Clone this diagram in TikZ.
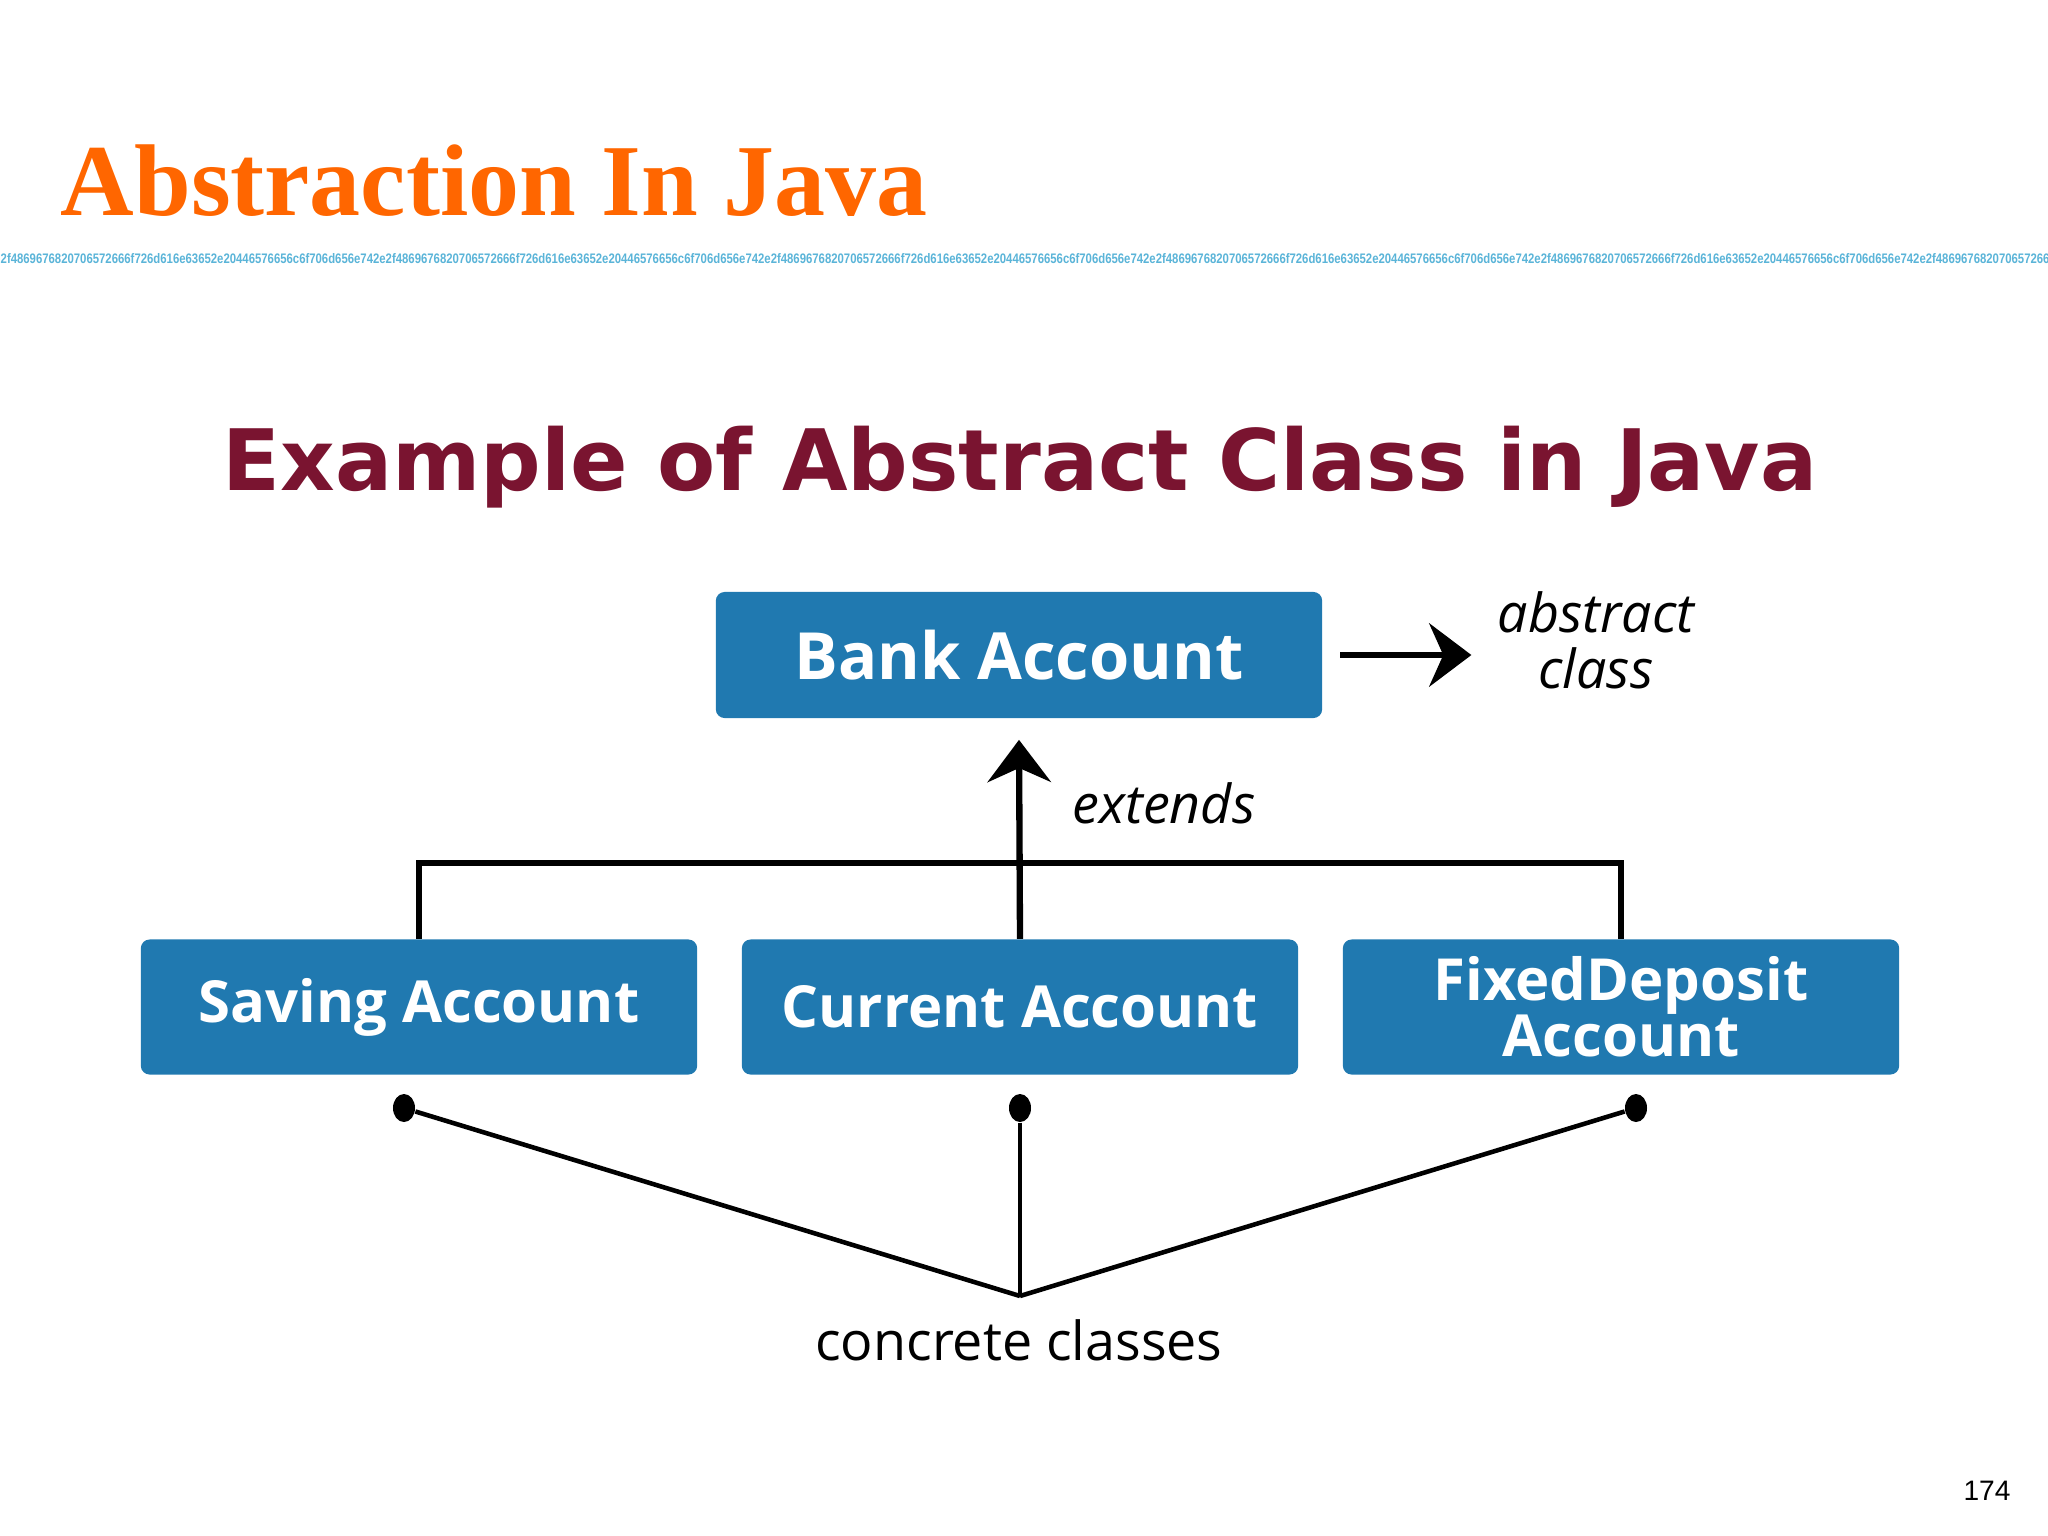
\documentclass[tikz,border=0pt]{standalone}
\usepackage{fontspec}
\usetikzlibrary{arrows.meta,shapes.geometric}

\newfontfamily\titlefont{Liberation Serif}
\newfontfamily\headfont{DejaVu Sans}
\newfontfamily\labelfont{Open Sans}
\newfontfamily\pagefont{Liberation Sans}

\definecolor{titleorange}{HTML}{FF6600}
\definecolor{headred}{HTML}{7A1430}
\definecolor{boxblue}{HTML}{2079B0}
\definecolor{hexblue}{HTML}{5AB4D8}

\newcommand{\hexchunk}{2f4869676820706572666f726d616e63652e20446576656c6f706d656e742e}

\begin{document}
\begin{tikzpicture}[x=0.01cm, y=-0.01cm]
    \tikzset{classbox/.style = {fill=boxblue, rounded corners=2.5pt, text=white,
                                font=\labelfont\bfseries\fontsize{16.5}{20}\selectfont,
                                align=center, minimum width=5.56cm, minimum height=1.35cm},
             note/.style = {font=\labelfont\itshape\fontsize{15.3}{19}\selectfont, align=center},
             link/.style = {line width=1.5pt},
             arr/.style = {line width=1.8pt, -{Stealth[length=12pt, width=18pt, inset=4pt]}},
             dot/.style = {shape=ellipse, fill=black, inner sep=0pt, minimum width=0.22cm, minimum height=0.28cm}}

    \useasboundingbox (0,0) rectangle (2048,1536);

    % Slide title and rule of hex digits
    \node[anchor=base west, inner sep=0pt, text=titleorange, font=\titlefont\bfseries\fontsize{29}{36}\selectfont]
        (title) at (60,215) {Abstraction In Java};
    \node[anchor=west, inner sep=0pt, text=hexblue, font=\pagefont\bfseries\fontsize{3.3}{4}\selectfont]
        (hexrule) at (0,259) {\resizebox{20.48cm}{0.1cm}{\hexchunk\hexchunk\hexchunk\hexchunk\hexchunk 2f486967682070657266}};

    % Heading of the figure
    \node[anchor=base, text=headred, font=\headfont\bfseries\fontsize{24.1}{28}\selectfont]
        (heading) at (1020,490) {Example of Abstract Class in Java};

    % Abstract class
    \node[classbox, minimum width=6.06cm, minimum height=1.26cm,
          font=\labelfont\bfseries\fontsize{18.5}{22}\selectfont] (bank) at (1019,655) {Bank Account};
    \node[note] (abstract) at (1596,640) {abstract\\[-3pt]class};

    % Concrete classes
    \foreach \pos/\name/\text in {{(419,1007)/saving/Saving Account},
                                  {(1020,1007)/current/Current Account},
                                  {(1621,1007)/fixed/FixedDeposit\\[-4pt]Account}}
        \node[classbox] (\name) at \pos {\text};

    \coordinate (bar) at (1020,863);
    \node[note] (extends) at (1164,803) {extends};

    % Connectors
    \draw[arr] ([xshift=5pt]bank.east) -- ([xshift=-4pt]abstract.west |- bank.east);
    \draw[link] (saving.north) |- (bar) -| (fixed.north);
    \draw[arr] (current.north) -- ([yshift=-6pt]bank.south);

    % Dots below the concrete classes
    \foreach \pos/\name in {{(404,1108)/d1}, {(1020,1108)/d2}, {(1636,1108)/d3}}
        \node[dot] (\name) at \pos {};
    \coordinate (meet) at (1020,1296);
    \foreach \source in {d1, d2, d3}
        \draw[line width=1.3pt] (\source) -- (meet);
    \node[font=\labelfont\fontsize{15.3}{19}\selectfont] (concrete) at (1019,1340) {concrete classes};

    \node[anchor=base, font=\pagefont\fontsize{8}{10}\selectfont] (page) at (1987,1500) {174};
\end{tikzpicture}
\end{document}
